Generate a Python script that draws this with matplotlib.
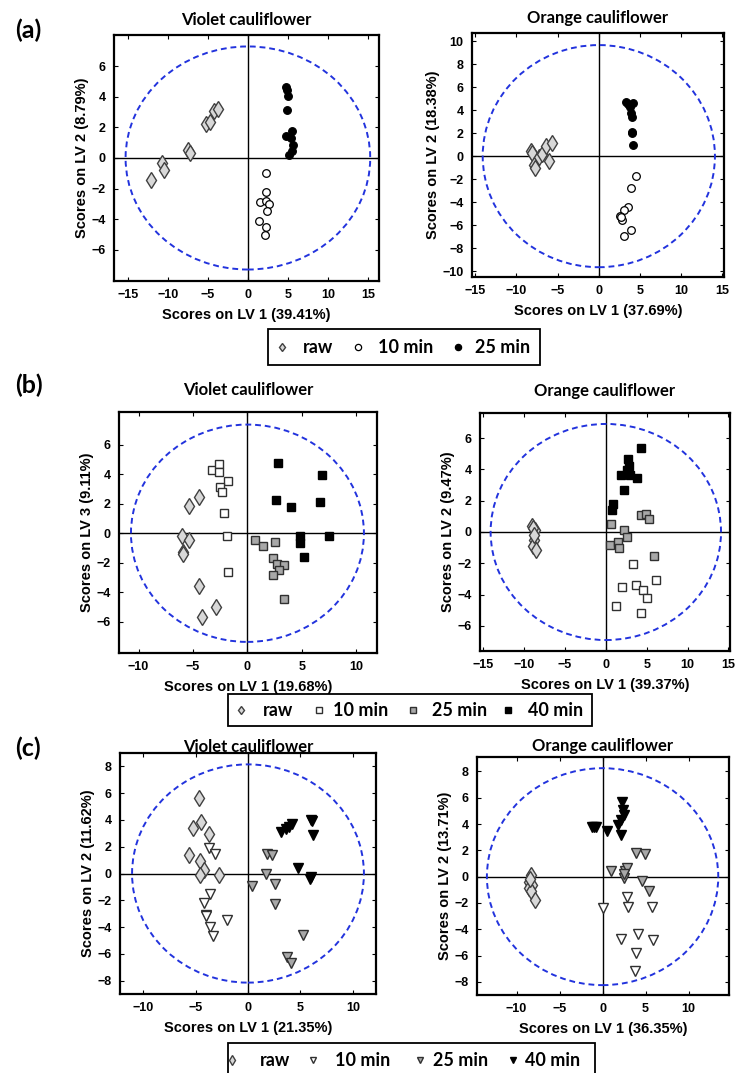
import numpy as np
import matplotlib.pyplot as plt
from matplotlib.lines import Line2D
from matplotlib.patches import Ellipse, Rectangle

# ---- (a) violet ----
a_v_raw_x = [-12.1, -10.7, -10.5, -7.5, -7.25, -5.3, -4.7, -4.25, -3.8]
a_v_raw_y = [-1.42, -0.33, -0.77, 0.5, 0.33, 2.25, 2.33, 3.05, 3.23]
a_v_10_x = [2.25, 2.25, 1.54, 2.25, 2.66, 2.37, 1.33, 2.25, 2.16]
a_v_10_y = [-1.0, -2.25, -2.88, -2.82, -2.99, -3.47, -4.1, -4.54, -5.04]
a_v_25_x = [4.75, 4.87, 5.04, 4.95, 5.5, 4.75, 5.37, 5.6, 5.46, 5.2]
a_v_25_y = [4.64, 4.47, 4.03, 3.16, 1.74, 1.41, 1.28, 0.87, 0.44, 0.22]

# ---- (a) orange ----
a_o_raw_x = [-8.2, -8.1, -7.9, -7.7, -7.3, -6.9, -6.45, -6.1, -5.7]
a_o_raw_y = [0.46, 0.29, -0.78, -1.0, -0.06, 0.23, 0.9, -0.43, 1.16]
a_o_10_x = [4.47, 3.95, 3.6, 3.0, 2.6, 2.86, 2.74, 3.9, 3.0]
a_o_10_y = [-1.74, -2.81, -4.4, -4.64, -5.2, -5.57, -5.3, -6.4, -6.96]
a_o_25_x = [3.27, 4.15, 3.83, 3.95, 4.03, 4.0, 4.0, 4.15, 3.55]
a_o_25_y = [4.72, 4.64, 4.23, 3.77, 3.36, 2.12, 1.97, 1.01, 4.5]

# ---- (b) violet ----
b_v_raw_x = [-4.45, -5.4, -6.0, -5.33, -5.94, -5.88, -4.45, -2.85, -4.2]
b_v_raw_y = [2.44, 1.84, -0.16, -0.47, -1.3, -1.39, -3.6, -4.97, -5.64]
b_v_10_x = [-3.24, -2.58, -2.58, -1.82, -2.5, -2.33, -2.12, -1.88, -1.76]
b_v_10_y = [4.25, 4.66, 4.14, 3.51, 3.13, 2.78, 1.39, -0.22, -2.6]
b_v_25_x = [0.73, 1.45, 2.5, 2.36, 2.73, 3.33, 2.94, 2.33, 3.36]
b_v_25_y = [-0.47, -0.83, -0.56, -1.68, -2.06, -2.15, -2.5, -2.8, -4.48]
b_v_40_x = [2.82, 6.82, 2.64, 4.0, 6.7, 4.85, 4.85, 7.48, 5.24]
b_v_40_y = [4.75, 3.96, 2.28, 1.79, 2.13, -0.22, -0.67, -0.18, -1.61]

# ---- (b) orange ----
b_o_raw_x = [-9.0, -8.7, -8.8, -8.86, -8.6, -8.9, -8.8]
b_o_raw_y = [0.36, 0.1, -0.49, -0.91, -1.13, 0.25, -0.2]
b_o_10_x = [3.27, 6.12, 2.04, 3.71, 4.61, 5.02, 1.22, 4.29]
b_o_10_y = [-2.04, -3.09, -3.53, -3.36, -3.68, -4.21, -4.7, -5.17]
b_o_25_x = [0.61, 4.29, 4.94, 5.27, 2.24, 2.57, 0.53, 1.43, 1.67, 5.92]
b_o_25_y = [0.53, 1.09, 1.17, 0.83, 0.15, -0.32, -0.81, -0.62, -1.02, -1.55]
b_o_40_x = [4.29, 2.69, 2.78, 2.57, 1.84, 2.98, 3.8, 2.24, 0.94, 0.73]
b_o_40_y = [5.36, 4.68, 4.23, 3.98, 3.66, 3.66, 3.45, 2.7, 1.81, 1.43]

# ---- (c) violet ----
c_v_raw_x = [-4.68, -4.46, -5.25, -3.73, -5.6, -4.59, -4.2, -4.53, -2.78]
c_v_raw_y = [5.62, 3.86, 3.41, 2.97, 1.4, 0.96, 0.24, -0.11, -0.11]
c_v_10_x = [-3.67, -3.16, -3.58, -4.2, -3.96, -3.58, -3.32, -1.96, -4.0]
c_v_10_y = [1.87, 1.45, -1.5, -2.17, -3.11, -4.03, -4.65, -3.46, -3.2]
c_v_25_x = [0.38, 1.84, 2.31, 1.74, 2.53, 2.53, 5.22, 3.7, 4.11]
c_v_25_y = [-0.93, 1.43, 1.38, -0.04, -0.81, -2.25, -4.58, -6.27, -6.71]
c_v_40_x = [3.1, 3.64, 4.15, 3.9, 6.01, 6.1, 6.17, 4.75, 5.92, 6.04]
c_v_40_y = [3.09, 3.29, 3.66, 3.45, 4.03, 3.9, 2.87, 0.43, -0.43, -0.26]

# ---- (c) orange ----
c_o_raw_x = [-8.33, -8.53, -8.26, -8.5, -8.33, -7.87, -8.4]
c_o_raw_y = [0.13, -0.43, -0.63, -0.89, -1.07, -1.78, -0.2]
c_o_10_x = [0.08, 2.79, 2.9, 5.7, 2.09, 4.15, 5.81, 3.84, 3.76]
c_o_10_y = [-2.41, -1.52, -2.28, -2.28, -4.77, -4.39, -4.82, -5.84, -7.16]
c_o_25_x = [3.88, 4.96, 0.93, 2.6, 2.87, 2.48, 4.53, 5.39, 2.5]
c_o_25_y = [1.78, 1.73, 0.43, 0.46, 0.63, -0.13, -0.33, -1.07, 0.2]
c_o_40_x = [2.29, 2.4, 2.48, 2.09, 1.82, 2.09, -1.28, -0.81, 0.54, -1.0]
c_o_40_y = [5.71, 5.08, 4.7, 4.31, 3.93, 3.17, 3.81, 3.76, 3.5, 3.75]

titles = ['Violet cauliflower', 'Orange cauliflower']
leg3 = ['raw', '10 min', '25 min']
leg4 = ['raw', '10 min', '25 min', '40 min']

plt.rcParams['font.family'] = ['Liberation Sans', 'DejaVu Sans']
CAL = ['Lato', 'DejaVu Sans']

fig = plt.figure(figsize=(7.37, 10.73), dpi=100)
W, H = 737.0, 1073.0


def fx(x):
    return x / W


def fy(y):
    return 1 - y / H


def add_ax(l, t, r, b):
    return fig.add_axes([l / W, 1 - b / H, (r - l) / W, (b - t) / H])


DIA = dict(marker='d', ms=8, mfc='#d8d8d8', mec='#404040', mew=1.0, ls='none')
OC = dict(marker='o', ms=5.5, mfc='white', mec='black', mew=0.9, ls='none')
FC = dict(marker='o', ms=5.5, mfc='black', mec='black', mew=0.9, ls='none')
SQ_W = dict(marker='s', ms=6.3, mfc='white', mec='#303030', mew=1.0, ls='none')
SQ_G = dict(marker='s', ms=6.3, mfc='#a8a8a8', mec='#303030', mew=1.0, ls='none')
SQ_B = dict(marker='s', ms=6.3, mfc='black', mec='black', mew=1.0, ls='none')
TR_W = dict(marker='v', ms=7, mfc='white', mec='#303030', mew=1.0, ls='none')
TR_G = dict(marker='v', ms=7, mfc='#a8a8a8', mec='#303030', mew=1.0, ls='none')
TR_B = dict(marker='v', ms=7, mfc='black', mec='black', mew=1.0, ls='none')


def style(ax, xlim, ylim, xt, yt, ell, xlab, ylab, title, tpad):
    ax.set_xlim(*xlim)
    ax.set_ylim(*ylim)
    ax.set_xticks(xt)
    ax.set_yticks(yt)
    ax.axhline(0, color='black', lw=1.0, zorder=1)
    ax.axvline(0, color='black', lw=1.0, zorder=1)
    ax.add_patch(Ellipse((0, 0), 2 * ell[0], 2 * ell[1], fill=False,
                         ec='#2233dd', ls=(0, (3, 2)), lw=1.4, zorder=1))
    ax.tick_params(direction='in', top=True, right=True, length=3,
                   labelsize=9, width=0.8, pad=6)
    for lab in ax.get_xticklabels() + ax.get_yticklabels():
        lab.set_fontweight('bold')
    for s in ax.spines.values():
        s.set_linewidth(1.6)
    ax.set_xlabel(xlab, fontsize=10.5, fontweight='bold', labelpad=5)
    ax.set_ylabel(ylab, fontsize=10.5, fontweight='bold', labelpad=2)
    ax.set_title(title, fontsize=12, fontweight='bold', pad=tpad, family=CAL)


# (a)
ax = add_ax(114, 35, 379, 281)
ax.plot(a_v_raw_x, a_v_raw_y, **DIA)
ax.plot(a_v_10_x, a_v_10_y, **OC)
ax.plot(a_v_25_x, a_v_25_y, **FC)
style(ax, (-16.75, 16.4), (-8.05, 8.05), [-15, -10, -5, 0, 5, 10, 15], [-6, -4, -2, 0, 2, 4, 6],
      (15.3, 7.3), 'Scores on LV 1 (39.41%)', 'Scores on LV 2 (8.79%)', titles[0], 7)

ax = add_ax(472, 33, 724, 277)
ax.plot(a_o_raw_x, a_o_raw_y, **DIA)
ax.plot(a_o_10_x, a_o_10_y, **OC)
ax.plot(a_o_25_x, a_o_25_y, **FC)
style(ax, (-15.4, 15.2), (-10.5, 10.7), [-15, -10, -5, 0, 5, 10, 15], list(range(-10, 11, 2)),
      (14.1, 9.65), 'Scores on LV 1 (37.69%)', 'Scores on LV 2 (18.38%)', titles[1], 7)

# (b)
ax = add_ax(119, 412, 377, 653)
ax.plot(b_v_raw_x, b_v_raw_y, **DIA)
ax.plot(b_v_10_x, b_v_10_y, **SQ_W)
ax.plot(b_v_25_x, b_v_25_y, **SQ_G)
ax.plot(b_v_40_x, b_v_40_y, **SQ_B)
style(ax, (-11.8, 11.9), (-8.1, 8.2), [-10, -5, 0, 5, 10], [-6, -4, -2, 0, 2, 4, 6],
      (10.7, 7.35), 'Scores on LV 1 (19.68%)', 'Scores on LV 3 (9.11%)', titles[0], 12)

ax = add_ax(480, 413, 730, 651)
ax.plot(b_o_raw_x, b_o_raw_y, **DIA)
ax.plot(b_o_10_x, b_o_10_y, **SQ_W)
ax.plot(b_o_25_x, b_o_25_y, **SQ_G)
ax.plot(b_o_40_x, b_o_40_y, **SQ_B)
style(ax, (-15.4, 15.2), (-7.6, 7.6), [-15, -10, -5, 0, 5, 10, 15], [-6, -4, -2, 0, 2, 4, 6],
      (14.1, 6.9), 'Scores on LV 1 (39.37%)', 'Scores on LV 2 (9.47%)', titles[1], 12)

# (c)
ax = add_ax(120, 753, 376, 994)
ax.plot(c_v_raw_x, c_v_raw_y, **DIA)
ax.plot(c_v_10_x, c_v_10_y, **TR_W)
ax.plot(c_v_25_x, c_v_25_y, **TR_G)
ax.plot(c_v_40_x, c_v_40_y, **TR_B)
style(ax, (-12.2, 12.2), (-9.0, 9.0), [-10, -5, 0, 5, 10], list(range(-8, 9, 2)),
      (11.05, 8.15), 'Scores on LV 1 (21.35%)', 'Scores on LV 2 (11.62%)', titles[0], 1)

ax = add_ax(477, 757, 729, 995)
ax.plot(c_o_raw_x, c_o_raw_y, **DIA)
ax.plot(c_o_10_x, c_o_10_y, **TR_W)
ax.plot(c_o_25_x, c_o_25_y, **TR_G)
ax.plot(c_o_40_x, c_o_40_y, **TR_B)
style(ax, (-14.6, 14.7), (-9.0, 9.1), [-10, -5, 0, 5, 10], list(range(-8, 9, 2)),
      (13.45, 8.25), 'Scores on LV 1 (36.35%)', 'Scores on LV 2 (13.71%)', titles[1], 4)

# panel letters
for lbl, y in [('(a)', 30), ('(b)', 385), ('(c)', 748)]:
    fig.text(fx(15), fy(y), lbl, fontsize=18, fontweight='bold', va='center', family=CAL)


# legends drawn as boxes with markers and labels
def legend(styles, labels, box, mx, tx, cy, ms):
    l, t, r, b = box
    fig.add_artist(Rectangle((fx(l), fy(b)), fx(r) - fx(l), fy(t) - fy(b),
                             transform=fig.transFigure, fill=False, ec='black', lw=1.3))
    for st, lab, m, x in zip(styles, labels, mx, tx):
        d = dict(st)
        d['ms'] = ms
        fig.add_artist(Line2D([fx(m)], [fy(cy)], transform=fig.transFigure, **d))
        fig.text(fx(x), fy(cy), lab, ha='left', va='center', fontsize=13,
                 fontweight='bold', family=CAL)


legend([DIA, OC, FC], leg3, (268, 329, 540, 365),
       [282, 358, 458], [303, 378, 475], 347, 4.5)
legend([DIA, SQ_W, SQ_G, SQ_B], leg4, (228, 694, 592, 726),
       [241, 319, 413, 508], [263, 333, 432, 528], 710, 4.5)
legend([DIA, TR_W, TR_G, TR_B], leg4, (228, 1043, 595, 1080),
       [232, 313, 420, 513], [260, 335, 433, 525], 1060, 5)

fig.savefig('out.png', dpi=100)
